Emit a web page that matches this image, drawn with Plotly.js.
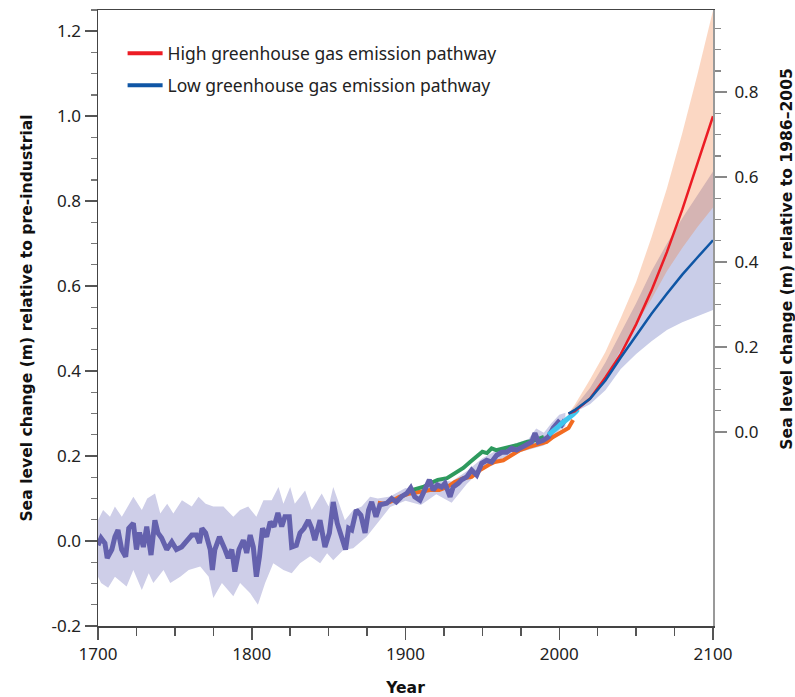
<!DOCTYPE html>
<html>
<head>
<meta charset="utf-8">
<script src="https://cdn.plot.ly/plotly-3.0.1.min.js"></script>
<style>
  body { margin: 0; background: #fff; }
  #chart { width: 795px; height: 697px; }
</style>
</head>
<body>
<div id="chart"></div>
<script>
// reconstruction + tide gauge (purple), years and metres relative to pre-industrial
var purpleYears = [1700, 1702, 1704.5, 1706, 1709, 1711, 1713, 1715.4, 1718, 1720, 1723, 1725, 1727, 1729.5, 1731.7, 1734.5, 1737, 1739, 1741.4, 1744.7,
	1748, 1751, 1754.4, 1757.7, 1761, 1764, 1766, 1767.6, 1770, 1773, 1774.4, 1776, 1779, 1782.6, 1784.7, 1787, 1789, 1791.7, 1794.5, 1796.7,
	1799, 1801, 1803, 1805, 1807, 1809.7, 1812, 1814.5, 1817, 1819.5, 1821.6, 1824.4, 1826, 1829, 1831.4, 1834, 1836.8, 1839, 1841, 1844.4,
	1847.6, 1850.5, 1853, 1855.6, 1858.5, 1861, 1863, 1865, 1868, 1871, 1873.7, 1876, 1878, 1880.8, 1883.4, 1887.8, 1891, 1894, 1897.5, 1900.8,
	1903.4, 1906, 1909.4, 1912.7, 1915.5, 1918, 1920.7, 1923.5, 1925.7, 1929, 1931, 1934.3, 1936.5, 1939.8, 1943, 1946.3, 1949.6, 1952.8, 1956, 1959.3,
	1962.6, 1965.8, 1969, 1972.3, 1975.6, 1978.8, 1982, 1984.2, 1986.4, 1989.6, 1992.9, 1996.1, 1999.4, 2001.6, 2003.7];
var purpleValues = [-0.01, 0.007, -0.005, -0.04, -0.02, 0.01, 0.026, -0.02, -0.037, 0.03, 0.042, -0.02, 0.02, -0.014, 0.034, -0.033, 0.049, 0.019, 0.007, -0.02,
	-0.002, -0.02, -0.014, -0.002, 0.014, 0.014, -0.005, 0.03, 0.019, -0.02, -0.068, -0.02, 0.01, -0.02, -0.04, -0.02, -0.072, -0.02, 0.002, -0.028,
	0.014, -0.014, -0.084, -0.037, 0.03, 0.01, 0.045, 0.034, 0.066, 0.034, 0.057, 0.057, -0.014, -0.01, 0.019, 0.03, 0.049, 0.03, 0.002, 0.049,
	-0.014, 0.019, 0.092, 0.042, 0.01, -0.02, 0.03, 0.026, 0.073, 0.061, 0.019, 0.073, 0.092, 0.057, 0.085, 0.089, 0.1, 0.092, 0.105, 0.112,
	0.125, 0.104, 0.096, 0.12, 0.144, 0.12, 0.132, 0.127, 0.136, 0.104, 0.127, 0.136, 0.144, 0.151, 0.167, 0.155, 0.183, 0.19, 0.186, 0.202,
	0.209, 0.209, 0.218, 0.214, 0.221, 0.226, 0.233, 0.254, 0.233, 0.237, 0.245, 0.266, 0.28, 0.273, 0.285];

// uncertainty band of the reconstruction
var bandUpperYears = [1700, 1703.3, 1707.8, 1711, 1715.5, 1719, 1723, 1728.5, 1732, 1737.1, 1740.5, 1745, 1749, 1754.6, 1761, 1765.4, 1770, 1775, 1781.6, 1788,
	1792.4, 1797.7, 1803, 1807.6, 1813, 1817.4, 1820.6, 1825, 1828, 1834.7, 1839, 1845.5, 1850, 1853, 1857.6, 1860.6, 1866, 1871.5, 1877, 1882,
	1890, 1900, 1910, 1920, 1930, 1940, 1950, 1960, 1970, 1980, 1985, 1990, 1995, 2000, 2004];
var bandUpper = [0.049, 0.073, 0.057, 0.081, 0.057, 0.08, 0.104, 0.073, 0.1, 0.112, 0.065, 0.088, 0.065, 0.096, 0.081, 0.104, 0.088, 0.081, 0.081, 0.057,
	0.073, 0.081, 0.057, 0.096, 0.096, 0.127, 0.088, 0.127, 0.088, 0.119, 0.073, 0.112, 0.081, 0.127, 0.081, 0.049, 0.073, 0.081, 0.104, 0.1,
	0.105, 0.125, 0.115, 0.145, 0.14, 0.165, 0.195, 0.215, 0.228, 0.24, 0.265, 0.255, 0.278, 0.297, 0.302];
var bandLowerYears = [1700, 1702, 1706.6, 1711, 1718.6, 1723, 1728.5, 1733, 1736, 1742.6, 1747, 1753.5, 1759, 1766.5, 1772, 1775, 1780.6, 1788, 1792.4, 1799,
	1804, 1808.7, 1814, 1820.6, 1826, 1831.4, 1838, 1844.5, 1849, 1853, 1859.6, 1866, 1874.7, 1881.3, 1890, 1900, 1910, 1920, 1930, 1940,
	1950, 1960, 1970, 1980, 1990, 2000, 2004];
var bandLower = [-0.084, -0.099, -0.11, -0.084, -0.107, -0.068, -0.115, -0.076, -0.099, -0.068, -0.099, -0.084, -0.068, -0.06, -0.084, -0.134, -0.099, -0.13, -0.099, -0.123,
	-0.15, -0.099, -0.052, -0.068, -0.076, -0.052, -0.036, -0.052, -0.029, -0.045, -0.021, -0.017, 0.01, 0.04, 0.08, 0.095, 0.085, 0.11, 0.09, 0.135,
	0.17, 0.19, 0.205, 0.215, 0.225, 0.26, 0.27];

// tide gauge reconstructions
var orangeYears = [1882, 1886, 1890, 1896, 1903, 1909, 1916, 1922, 1927, 1932, 1937.6, 1943, 1948.5, 1954, 1958, 1963.6, 1969, 1974.5, 1980, 1985.4, 1991.8, 1996, 2001.6, 2006, 2009];
var orangeValues = [0.09, 0.088, 0.092, 0.104, 0.112, 0.116, 0.12, 0.12, 0.127, 0.139, 0.148, 0.151, 0.167, 0.179, 0.186, 0.19, 0.202, 0.214, 0.221, 0.226, 0.233, 0.245, 0.256, 0.266, 0.285];
var greenYears = [1904, 1909, 1912, 1916, 1921, 1927, 1932, 1937.6, 1942, 1946, 1950, 1953, 1956, 1959, 1964, 1968, 1973, 1979, 1984, 1990];
var greenValues = [0.12, 0.125, 0.128, 0.136, 0.144, 0.148, 0.16, 0.172, 0.186, 0.198, 0.21, 0.207, 0.218, 0.214, 0.218, 0.221, 0.226, 0.233, 0.237, 0.245];

// satellite altimetry
var cyanYears = [1993, 1995, 1997, 1999, 2001, 2003, 2005, 2007, 2009, 2011, 2012];
var cyanValues = [0.25, 0.255, 0.262, 0.268, 0.275, 0.28, 0.285, 0.29, 0.298, 0.305, 0.31];

// projections
var projYears = [2006, 2010, 2020, 2030, 2040, 2050, 2060, 2070, 2080, 2090, 2100];
var highMean = [0.30, 0.305, 0.335, 0.385, 0.44, 0.51, 0.59, 0.68, 0.78, 0.89, 1.0];
var highUpper = [0.30, 0.32, 0.38, 0.445, 0.525, 0.61, 0.715, 0.83, 0.96, 1.10, 1.249];
var highLower = [0.30, 0.305, 0.33, 0.385, 0.45, 0.51, 0.57, 0.635, 0.69, 0.74, 0.785];
var lowMean = [0.30, 0.308, 0.335, 0.378, 0.432, 0.485, 0.535, 0.582, 0.627, 0.668, 0.708];
var lowUpper = [0.30, 0.315, 0.36, 0.42, 0.49, 0.56, 0.635, 0.70, 0.76, 0.815, 0.87];
var lowLower = [0.30, 0.303, 0.322, 0.355, 0.405, 0.44, 0.47, 0.497, 0.515, 0.53, 0.544];

var legendNames = ['High greenhouse gas emission pathway', 'Low greenhouse gas emission pathway'];

// right axis is the same scale shifted to the 1986-2005 baseline
var baselineOffset = 0.2565;
var rightTicks = [0, 0.2, 0.4, 0.6, 0.8];
var rightMinor = [0.05, 0.1, 0.15, 0.25, 0.3, 0.35, 0.45, 0.5, 0.55, 0.65, 0.7, 0.75, 0.85, 0.9, 0.95];

var fontName = 'Noto Sans, Open Sans, sans-serif';
var boldFontName = 'DejaVu Sans, Noto Sans, sans-serif';

function bandPolygon(upX, upY, loX, loY) {
	return {
		x: upX.concat(loX.slice().reverse()),
		y: upY.concat(loY.slice().reverse())
	};
}

var data = [];

// purple band
var pb = bandPolygon(bandUpperYears, bandUpper, bandLowerYears, bandLower);
data.push({x: pb.x, y: pb.y, type: 'scatter', mode: 'lines', fill: 'toself',
	fillcolor: 'rgb(206,206,232)', line: {width: 0}, showlegend: false, hoverinfo: 'skip'});

// projection bands: low first (opaque), high on top (translucent)
data.push({x: projYears, y: lowLower, type: 'scatter', mode: 'lines', line: {width: 0}, showlegend: false, hoverinfo: 'skip'});
data.push({x: projYears, y: lowUpper, type: 'scatter', mode: 'lines', fill: 'tonexty',
	fillcolor: 'rgb(201,205,232)', line: {width: 0}, showlegend: false, hoverinfo: 'skip'});
data.push({x: projYears, y: highLower, type: 'scatter', mode: 'lines', line: {width: 0}, showlegend: false, hoverinfo: 'skip'});
data.push({x: projYears, y: highUpper, type: 'scatter', mode: 'lines', fill: 'tonexty',
	fillcolor: 'rgba(242,122,55,0.3)', line: {width: 0}, showlegend: false, hoverinfo: 'skip'});

// observations
data.push({x: orangeYears, y: orangeValues, type: 'scatter', mode: 'lines',
	line: {color: '#f26b21', width: 4}, showlegend: false});
data.push({x: greenYears, y: greenValues, type: 'scatter', mode: 'lines',
	line: {color: '#2e9a5e', width: 4}, showlegend: false});
data.push({x: purpleYears, y: purpleValues, type: 'scatter', mode: 'lines',
	line: {color: '#6461ad', width: 5}, showlegend: false});
data.push({x: cyanYears, y: cyanValues, type: 'scatter', mode: 'lines',
	line: {color: '#3fc6ef', width: 5}, showlegend: false});

// projection means
data.push({x: projYears, y: highMean, type: 'scatter', mode: 'lines',
	line: {color: '#ec1c24', width: 2.5}, showlegend: false});
data.push({x: projYears, y: lowMean, type: 'scatter', mode: 'lines',
	line: {color: '#0f56a5', width: 2.5}, showlegend: false});

// legend entries (thicker swatches, one legend per row); points sit outside the axis range
data.push({x: [1690], y: [0], type: 'scatter', mode: 'lines', name: legendNames[0],
	line: {color: '#ec1c24', width: 4}, legend: 'legend'});
data.push({x: [1690], y: [0], type: 'scatter', mode: 'lines', name: legendNames[1],
	line: {color: '#0f56a5', width: 4}, legend: 'legend2'});

// dummy trace for the right axis
data.push({x: [2100], y: [0], yaxis: 'y2', type: 'scatter', mode: 'markers',
	marker: {opacity: 0}, showlegend: false, hoverinfo: 'skip'});

var tickFont = {family: fontName, size: 17, color: '#222'};
var titleFont = {family: boldFontName, size: 15.6, color: '#111', weight: 'bold'};
var legendFont = {family: fontName, size: 17.5, color: '#222'};

var layout = {
	width: 795,
	height: 697,
	margin: {l: 98, r: 82, t: 10, b: 71},
	paper_bgcolor: '#fff',
	plot_bgcolor: '#fff',
	showlegend: true,
	legend: {
		x: 0.04, y: 0.959, xanchor: 'left', yanchor: 'top',
		bgcolor: 'rgba(0,0,0,0)', font: legendFont, itemwidth: 35
	},
	legend2: {
		x: 0.04, y: 0.907, xanchor: 'left', yanchor: 'top',
		bgcolor: 'rgba(0,0,0,0)', font: legendFont, itemwidth: 35
	},
	xaxis: {
		range: [1700, 2100],
		tickmode: 'array',
		tickvals: [1700, 1800, 1900, 2000, 2100],
		ticks: 'outside', ticklen: 12, tickcolor: '#555', tickwidth: 1.5,
		minor: {dtick: 25, tick0: 1700, ticks: 'outside', ticklen: 8, tickcolor: '#555', tickwidth: 1.5},
		showline: true, linecolor: '#444', linewidth: 1.5, mirror: true,
		showgrid: false, zeroline: false,
		tickfont: tickFont,
		title: {text: 'Year', font: titleFont, standoff: 19}
	},
	yaxis: {
		range: [-0.2, 1.25],
		tickmode: 'array',
		tickvals: [-0.2, 0, 0.2, 0.4, 0.6, 0.8, 1.0, 1.2],
		ticktext: ['-0.2', '0.0', '0.2', '0.4', '0.6', '0.8', '1.0', '1.2'],
		ticks: 'outside', ticklen: 12, tickcolor: '#555', tickwidth: 1.5,
		minor: {dtick: 0.05, tick0: 0, ticks: 'outside', ticklen: 6, tickcolor: '#777', tickwidth: 1.2},
		showline: true, linecolor: '#444', linewidth: 1.5,
		showgrid: false, zeroline: false,
		tickfont: tickFont,
		title: {text: 'Sea level change (m) relative to pre-industrial', font: titleFont, standoff: 15}
	},
	yaxis2: {
		overlaying: 'y',
		side: 'right',
		range: [-0.2 - baselineOffset, 1.25 - baselineOffset],
		tickmode: 'array',
		tickvals: rightTicks,
		ticktext: rightTicks.map(function(v) { return v.toFixed(1); }),
		ticks: 'outside', ticklen: 12, tickcolor: '#888', tickwidth: 1.5,
		ticklabelstandoff: 4,
		minor: {tickmode: 'array', tickvals: rightMinor, ticks: 'outside', ticklen: 6, tickcolor: '#888', tickwidth: 1.2},
		showline: true, linecolor: '#999', linewidth: 2,
		showgrid: false, zeroline: false,
		tickfont: tickFont
	},
	annotations: [{
		text: 'Sea level change (m) relative to 1986–2005',
		xref: 'paper', yref: 'paper',
		x: 1.121, y: 0.597,
		xanchor: 'center', yanchor: 'middle',
		textangle: -90, showarrow: false,
		font: titleFont
	}]
};

Plotly.newPlot('chart', data, layout, {displayModeBar: false, staticPlot: true});
</script>
</body>
</html>
